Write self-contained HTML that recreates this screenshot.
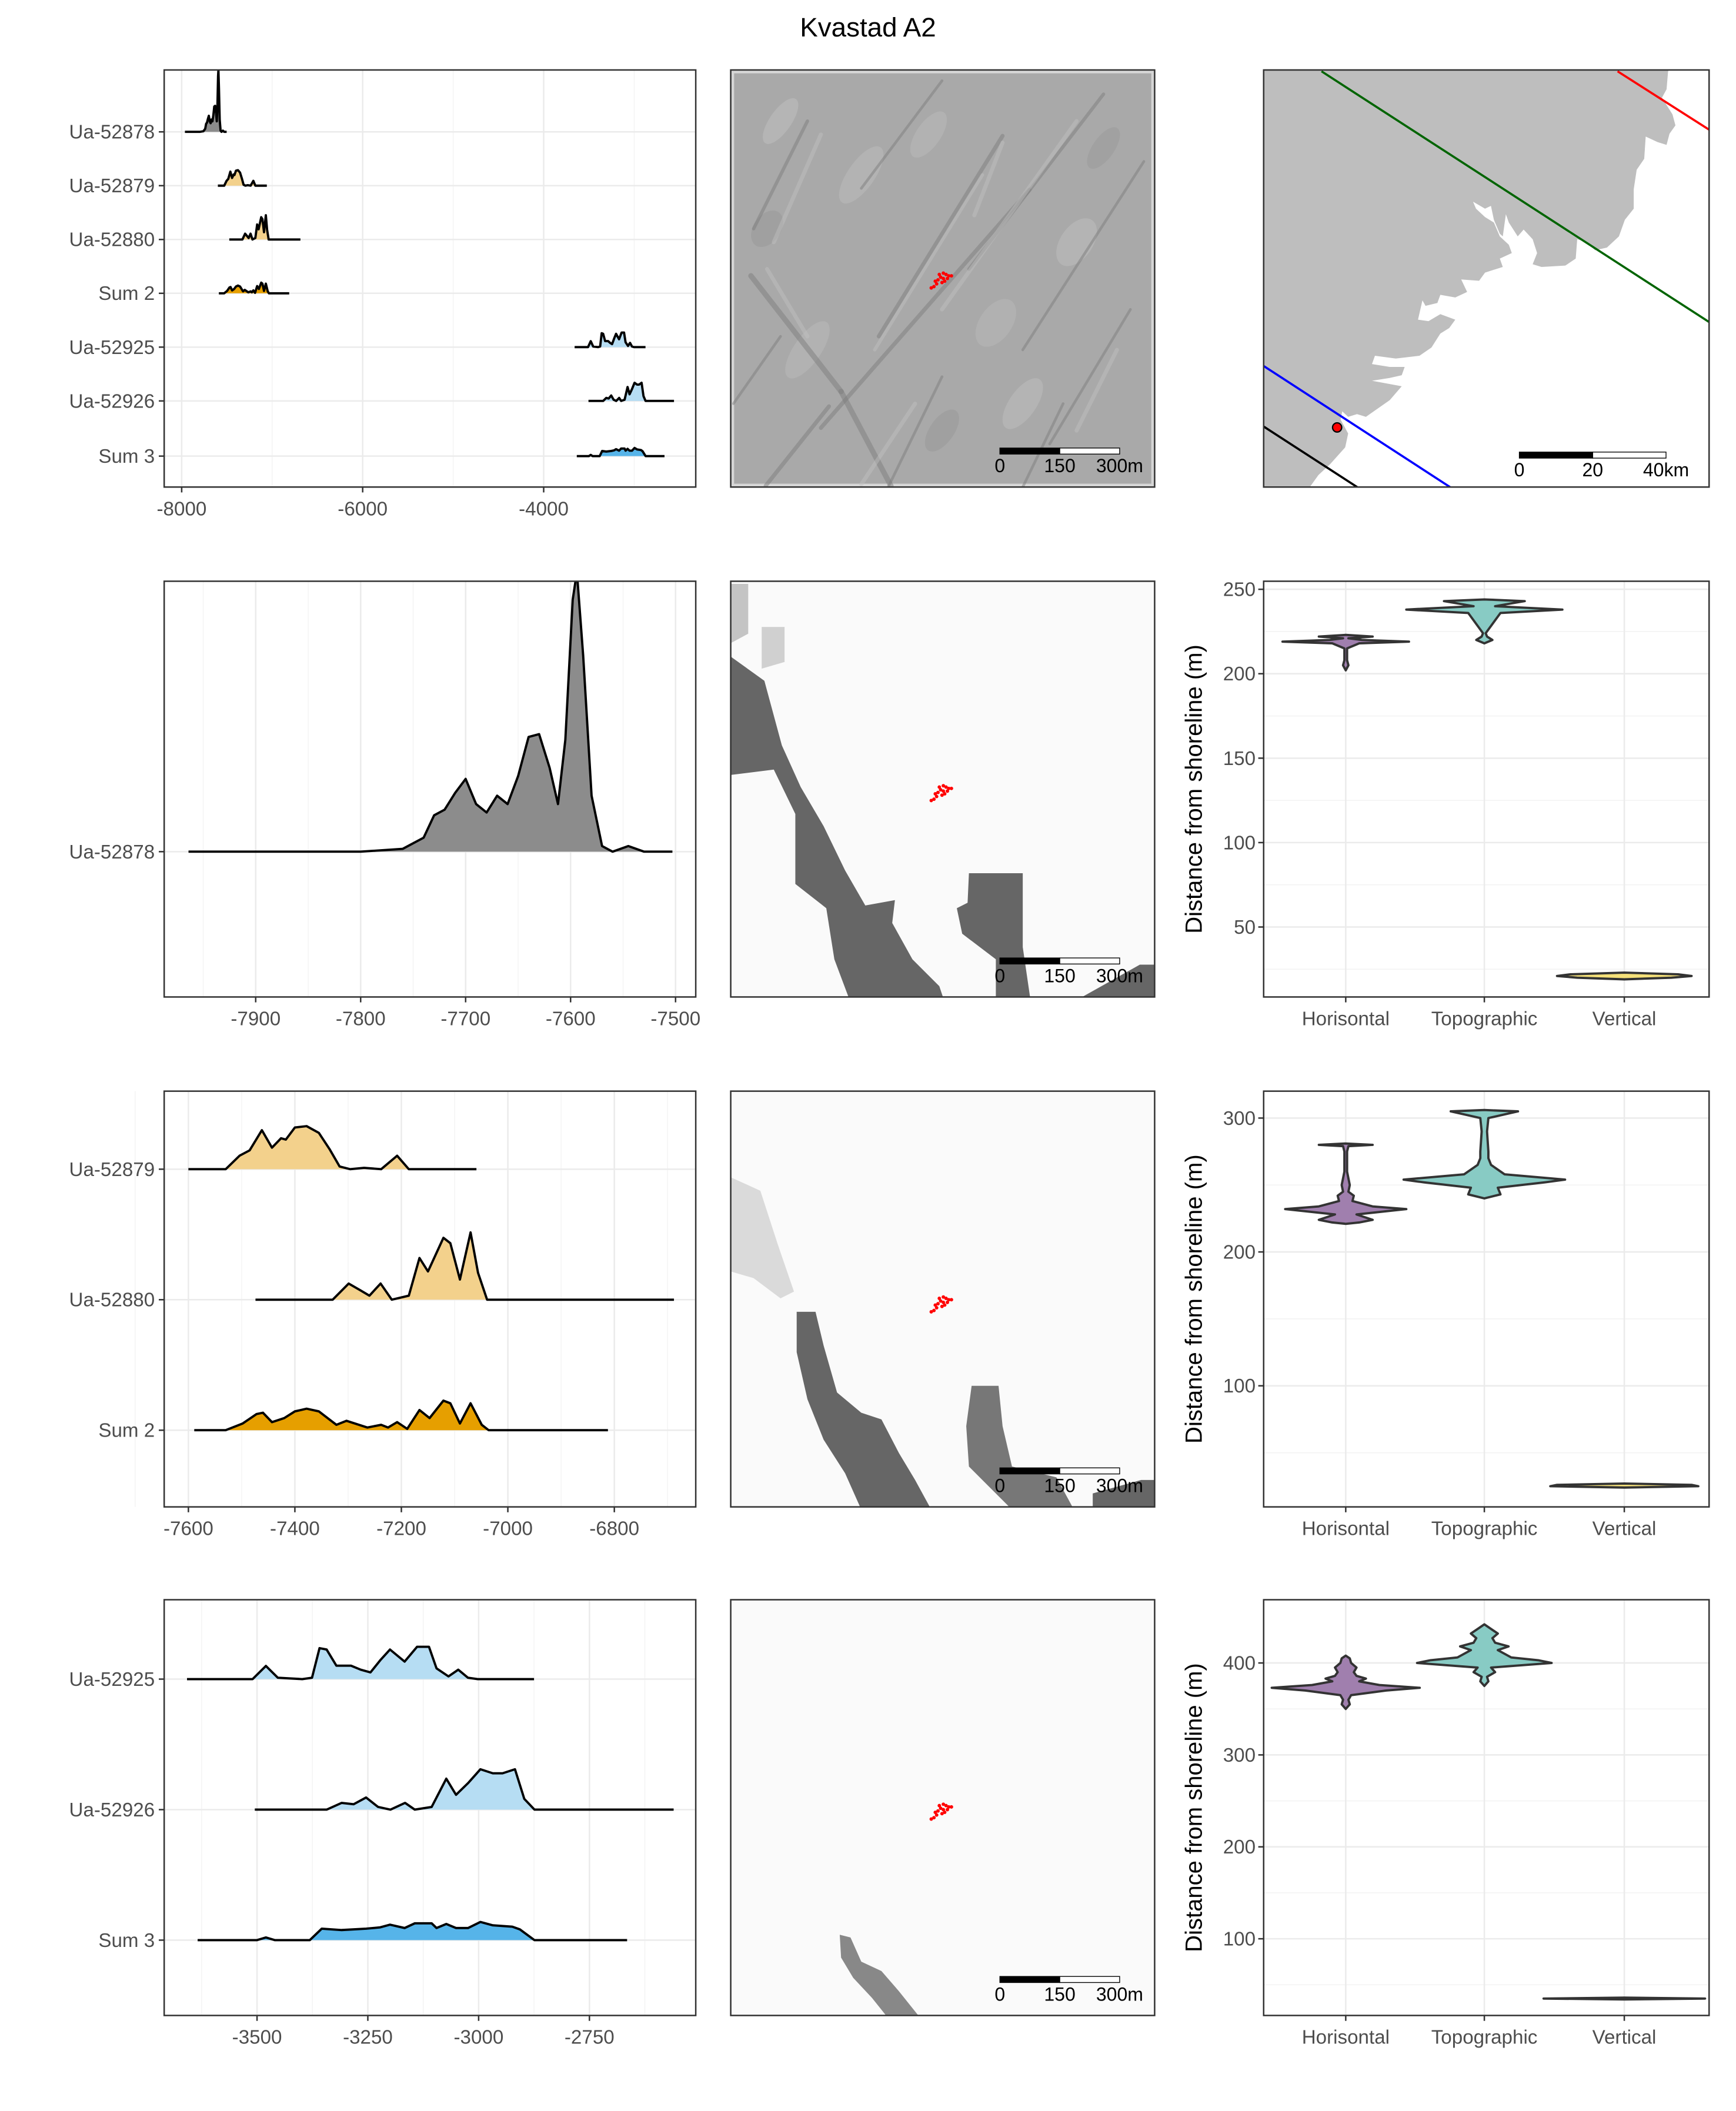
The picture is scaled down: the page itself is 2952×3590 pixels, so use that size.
<!DOCTYPE html>
<html><head><meta charset="utf-8"><title>Kvastad A2</title>
<style>
html,body{margin:0;padding:0;background:#fff;}
svg{display:block;}
text{font-family:"Liberation Sans",Arial,sans-serif;}
</style></head>
<body>
<svg id="fig" xmlns="http://www.w3.org/2000/svg" width="2952" height="3590" viewBox="0 0 1290 1569" preserveAspectRatio="none">
<rect x="0" y="0" width="1290" height="1569" fill="#fff"/>
<text x="645" y="27" font-size="20" text-anchor="middle" fill="#000">Kvastad A2</text>
<g id="layer"></g>
</svg>
<script>
// ---------- DATA ----------
const r52878Years=[-7964,-7800,-7760,-7740,-7730,-7720,-7710,-7700,-7690,-7680,-7670,-7660,-7650,-7640,-7630,-7620,-7612,-7605,-7598,-7594,-7588,-7580,-7570,-7560,-7545,-7530,-7503];
const r52878Dens=[0,0,0.01,0.05,0.13,0.15,0.21,0.26,0.17,0.14,0.2,0.17,0.27,0.41,0.42,0.3,0.17,0.4,0.9,1.0,0.7,0.2,0.02,0,0.02,0,0];
const r52879Years=[-7600,-7530,-7504,-7485,-7462,-7443,-7426,-7417,-7400,-7378,-7355,-7335,-7316,-7296,-7270,-7238,-7208,-7186,-7059];
const r52879Dens=[0,0,10,14,29,16,23,22,31,32,27,15,2,0,1,0,10,0,0];
const r52880Years=[-7474,-7329,-7299,-7277,-7260,-7239,-7218,-7186,-7166,-7150,-7121,-7108,-7090,-7070,-7056,-7039,-6688];
const r52880Dens=[0,0,12,7,3,12,0,3,31,21,46,42,15,50,20,0,0];
const sum2Years=[-7589,-7530,-7498,-7472,-7460,-7443,-7420,-7400,-7378,-7355,-7322,-7303,-7264,-7238,-7225,-7208,-7189,-7166,-7147,-7121,-7108,-7090,-7070,-7049,-7036,-6812];
const sum2Dens=[0,0,5,12,13,6,9,14,16,14,4,7,2,4,2,6,1,15,9,22,20,5,20,4,0,0];
const r52925Years=[-3658,-3510,-3480,-3453,-3398,-3376,-3359,-3343,-3321,-3288,-3266,-3244,-3222,-3200,-3167,-3139,-3112,-3095,-3068,-3046,-3024,-3002,-2875];
const r52925Dens=[0,0,9.8,1,0,1,23,22,10,10,7,5,14,22,13,24,24,8,2,7,1,0,0];
const r52926Years=[-3505,-3343,-3309,-3282,-3254,-3227,-3199,-3166,-3144,-3106,-3073,-3051,-3023,-2996,-2968,-2946,-2918,-2897,-2874,-2560];
const r52926Dens=[0,0,5,4,9,2,0,5,0,2,23,11,20,30,27,27,30,8,0,0];
const sum3Years=[-3634,-3500,-3480,-3460,-3381,-3354,-3309,-3254,-3222,-3200,-3167,-3144,-3106,-3095,-3073,-3051,-3024,-2996,-2968,-2924,-2907,-2874,-2665];
const sum3Dens=[0,0,2,0,0,8.5,7.5,8.5,9.5,11.5,9,12.5,12.5,9,12,9,9,13.5,11,10,8,0,0];

const overviewLabels=["Ua-52878","Ua-52879","Ua-52880","Sum 2","Ua-52925","Ua-52926","Sum 3"];
const row1Ticks=[-8000,-6000,-4000];
const row2Ticks=[-7900,-7800,-7700,-7600,-7500];
const row3Ticks=[-7600,-7400,-7200,-7000,-6800];
const row4Ticks=[-3500,-3250,-3000,-2750];

const violinCats=["Horisontal","Topographic","Vertical"];
const v2HVals=[202,205,208,215,218,219,220,221,222,223];
const v2HWid=[0,2,1,1,10,47,12,2,20,0];
const v2TVals=[218,220,222,224,236,238,240,243,244];
const v2TWid=[0,6,2,1,12,58,8,30,0];
const v2VVals=[19,20,21,22,23];
const v2VWid=[0,35,50,40,0];
const v3HVals=[221,222,224,228,232,234,238,242,245,250,260,275,279,280,281];
const v3HWid=[0,10,20,8,45,20,5,6,2,3,1,1,2,20,0];
const v3TVals=[240,243,248,252,254,258,265,270,275,290,300,305,306];
const v3TWid=[0,12,10,45,60,15,5,3,3,2,3,25,0];
const v3VVals=[24,25,26,27];
const v3VWid=[0,55,50,0];
const v4HVals=[350,355,360,365,370,373,376,380,383,386,390,395,400,405,408];
const v4HWid=[0,3,2,4,30,55,25,10,15,8,6,8,4,3,0];
const v4TVals=[375,380,385,390,395,400,403,406,410,414,418,422,427,432,437,442];
const v4TWid=[0,3,2,8,5,50,40,20,15,10,18,8,6,10,5,0];
const v4VVals=[34,35,36];
const v4VWid=[0,60,0];

const y2Ticks=[50,100,150,200,250];
const y3Ticks=[100,200,300];
const y4Ticks=[100,200,300,400];

// ---------- HELPERS ----------
const NS="http://www.w3.org/2000/svg";
const layer=document.getElementById('layer');
const FS=14.5;
function mk(tag,attrs,parent){const e=document.createElementNS(NS,tag);for(const k in attrs)e.setAttribute(k,attrs[k]);(parent||layer).appendChild(e);return e;}
function txt(s,x,y,attrs,parent){const t=mk('text',Object.assign({x:x,y:y,'font-size':FS,fill:'#4d4d4d'},attrs),parent);t.textContent=s;return t;}

const ROWS=[{t:52,b:362},{t:432,b:741},{t:811,b:1120},{t:1189,b:1498}];
const RX={l:122,r:517}, MX={l:543,r:858}, VX={l:939,r:1270};

function clip(id,x,y,w,h){const d=document.querySelector('defs')||mk('defs',{},document.getElementById('fig'));const c=mk('clipPath',{id:id},d);mk('rect',{x:x,y:y,width:w,height:h},c);}

// ---------- RIDGE PANELS ----------
function ridgePanel(row,xs,majors,minors,cats,ridges,name){
  const R=ROWS[row];
  const g=mk('g',{});
  
  
  mk('rect',{x:RX.l,y:R.t,width:RX.r-RX.l,height:R.b-R.t,fill:'#fff'},g);
  minors.forEach(v=>{mk('line',{x1:xs(v),x2:xs(v),y1:R.t,y2:R.b,stroke:'#f3f3f3','stroke-width':0.6},g);});
  majors.forEach(v=>{mk('line',{x1:xs(v),x2:xs(v),y1:R.t,y2:R.b,stroke:'#ebebeb','stroke-width':1.1},g);});
  cats.forEach(c=>{mk('line',{x1:RX.l,x2:RX.r,y1:c.y,y2:c.y,stroke:'#ebebeb','stroke-width':1.1},g);});
  const cid='clipR'+row;clip(cid,RX.l,R.t,RX.r-RX.l,R.b-R.t);
  const rg=mk('g',{'clip-path':'url(#'+cid+')'},g);
  ridges.forEach(rd=>{
    let pts=rd.years.map((yr,i)=>[xs(yr),rd.base-rd.dens[i]*rd.k]);
    let d='M'+pts.map(p=>p[0].toFixed(2)+','+p[1].toFixed(2)).join('L');
    const f=mk('path',{d:d+'L'+pts[pts.length-1][0]+','+rd.base+'L'+pts[0][0]+','+rd.base+'Z',fill:rd.fill,stroke:'none'},rg);
    
    
    const l=mk('path',{d:d,fill:'none',stroke:'#000','stroke-width':1.7,'stroke-linejoin':'round'},rg);
    
    
  });
  mk('rect',{x:RX.l,y:R.t,width:RX.r-RX.l,height:R.b-R.t,fill:'none',stroke:'#333','stroke-width':1.1},g);
  cats.forEach(c=>{
    mk('line',{x1:RX.l-4,x2:RX.l,y1:c.y,y2:c.y,stroke:'#333','stroke-width':1.1},g);
    const t=txt(c.label,RX.l-7,c.y+5,{'text-anchor':'end'},g);
    
    
  });
  majors.forEach(v=>{
    mk('line',{x1:xs(v),x2:xs(v),y1:R.b,y2:R.b+4,stroke:'#333','stroke-width':1.1},g);
    const t=txt(String(v),xs(v),R.b+21,{'text-anchor':'middle'},g);
    
    
  });
}
function lin(v0,p0,v1,p1){return v=>p0+(v-v0)*(p1-p0)/(v1-v0);}

const xs1=lin(-8000,135,-4000,404);
const catY1=[98,138,178,218,258,298,339];
ridgePanel(0,xs1,row1Ticks,[-7000,-5000,-3000],overviewLabels.map((l,i)=>({label:l,y:catY1[i]})),[
 {name:'ridge-ua-52878',years:r52878Years,dens:r52878Dens,base:catY1[0],k:46,fill:'#8c8c8c'},
 {name:'ridge-ua-52879',years:r52879Years,dens:r52879Dens,base:catY1[1],k:0.36,fill:'#f3d18c'},
 {name:'ridge-ua-52880',years:r52880Years,dens:r52880Dens,base:catY1[2],k:0.36,fill:'#f3d18c'},
 {name:'ridge-sum-2',years:sum2Years,dens:sum2Dens,base:catY1[3],k:0.36,fill:'#e69f00'},
 {name:'ridge-ua-52925',years:r52925Years,dens:r52925Dens,base:catY1[4],k:0.45,fill:'#b6ddf3'},
 {name:'ridge-ua-52926',years:r52926Years,dens:r52926Dens,base:catY1[5],k:0.45,fill:'#b6ddf3'},
 {name:'ridge-sum-3',years:sum3Years,dens:sum3Dens,base:catY1[6],k:0.45,fill:'#56b4e9'}
],'overview-ridge-panel');

const xs2=lin(-7900,190,-7500,502);
ridgePanel(1,xs2,row2Ticks,[-7950,-7850,-7750,-7650,-7550],[{label:'Ua-52878',y:633}],[
 {name:'ridge-ua-52878',years:r52878Years,dens:r52878Dens,base:633,k:208,fill:'#8c8c8c'}
],'phase1-ridge-panel');

const xs3=lin(-7600,140,-6800,456.5);
ridgePanel(2,xs3,row3Ticks,[-7700,-7500,-7300,-7100,-6900,-6700],[{label:'Ua-52879',y:869},{label:'Ua-52880',y:966},{label:'Sum 2',y:1063}],[
 {name:'ridge-ua-52879',years:r52879Years,dens:r52879Dens,base:869,k:1,fill:'#f3d18c'},
 {name:'ridge-ua-52880',years:r52880Years,dens:r52880Dens,base:966,k:1,fill:'#f3d18c'},
 {name:'ridge-sum-2',years:sum2Years,dens:sum2Dens,base:1063,k:1,fill:'#e69f00'}
],'phase2-ridge-panel');

const xs4=lin(-3500,191,-2750,438);
ridgePanel(3,xs4,row4Ticks,[-3625,-3375,-3125,-2875,-2625],[{label:'Ua-52925',y:1248},{label:'Ua-52926',y:1345},{label:'Sum 3',y:1442}],[
 {name:'ridge-ua-52925',years:r52925Years,dens:r52925Dens,base:1248,k:1,fill:'#b6ddf3'},
 {name:'ridge-ua-52926',years:r52926Years,dens:r52926Dens,base:1345,k:1,fill:'#b6ddf3'},
 {name:'ridge-sum-3',years:sum3Years,dens:sum3Dens,base:1442,k:1,fill:'#56b4e9'}
],'phase3-ridge-panel');

// ---------- VIOLIN PANELS ----------
const catX=[1000,1103,1207];
function violinPanel(row,ys,majors,minors,violins,name){
  const R=ROWS[row];
  const g=mk('g',{});
  
  
  mk('rect',{x:VX.l,y:R.t,width:VX.r-VX.l,height:R.b-R.t,fill:'#fff'},g);
  minors.forEach(v=>{mk('line',{x1:VX.l,x2:VX.r,y1:ys(v),y2:ys(v),stroke:'#f3f3f3','stroke-width':0.7},g);});
  majors.forEach(v=>{mk('line',{x1:VX.l,x2:VX.r,y1:ys(v),y2:ys(v),stroke:'#ebebeb','stroke-width':1.1},g);});
  catX.forEach(x=>{mk('line',{x1:x,x2:x,y1:R.t,y2:R.b,stroke:'#ebebeb','stroke-width':1.1},g);});
  const cols=['#a07fae','#88cbc4','#f5e17a'];
  violins.forEach((v,i)=>{
    const cx=catX[i];
    const right=v.vals.map((val,j)=>[cx+v.wid[j],ys(val)]);
    const left=v.vals.map((val,j)=>[cx-v.wid[j],ys(val)]).reverse();
    const pts=right.concat(left);
    const p=mk('path',{d:'M'+pts.map(q=>q[0].toFixed(2)+','+q[1].toFixed(2)).join('L')+'Z',fill:cols[i],stroke:'#333','stroke-width':1.7,'stroke-linejoin':'round'},g);
    
    
  });
  mk('rect',{x:VX.l,y:R.t,width:VX.r-VX.l,height:R.b-R.t,fill:'none',stroke:'#333','stroke-width':1.1},g);
  majors.forEach(v=>{
    mk('line',{x1:VX.l-4,x2:VX.l,y1:ys(v),y2:ys(v),stroke:'#333','stroke-width':1.1},g);
    const t=txt(String(v),VX.l-6,ys(v)+5,{'text-anchor':'end'},g);
    
    
  });
  violinCats.forEach((c,i)=>{
    mk('line',{x1:catX[i],x2:catX[i],y1:R.b,y2:R.b+4,stroke:'#333','stroke-width':1.1},g);
    const t=txt(c,catX[i],R.b+21,{'text-anchor':'middle'},g);
    
    
  });
  const cy=(R.t+R.b)/2;
  const yt=txt('Distance from shoreline (m)',893,cy,{'text-anchor':'middle','font-size':17.5,fill:'#000',transform:'rotate(-90 893 '+cy+')'},g);
  
  
}
violinPanel(1,lin(50,689,250,438),y2Ticks,[25,75,125,175,225],[
 {vals:v2HVals,wid:v2HWid},{vals:v2TVals,wid:v2TWid},{vals:v2VVals,wid:v2VWid}],'phase1-violin-panel');
violinPanel(2,lin(100,1030,300,831),y3Ticks,[50,150,250],[
 {vals:v3HVals,wid:v3HWid},{vals:v3TVals,wid:v3TWid},{vals:v3VVals,wid:v3VWid}],'phase2-violin-panel');
violinPanel(3,lin(100,1441,400,1236),y4Ticks,[50,150,250,350],[
 {vals:v4HVals,wid:v4HWid},{vals:v4TVals,wid:v4TWid},{vals:v4VVals,wid:v4VWid}],'phase3-violin-panel');

// ---------- MAPS ----------
function scaleBar(g,x0,y0,w,labels){
  mk('rect',{x:x0,y:y0,width:w/2,height:4.5,fill:'#000',stroke:'#000','stroke-width':0.6},g);
  mk('rect',{x:x0+w/2,y:y0,width:w/2,height:4.5,fill:'#fff',stroke:'#000','stroke-width':0.6},g);
  labels.forEach((l,i)=>{txt(l,x0+i*w/2,y0+18,{'text-anchor':'middle',fill:'#000','font-size':14},g);});
}
function redSite(g,dx,dy){
  const pts=[[0,0],[2,-1],[4,-3],[3,-5],[5,-6],[7,-8],[6,-10],[9,-11],[11,-10],[13,-9],[15,-9],[12,-7],[9,-7],[10,-5],[8,-4]];
  pts.forEach(p=>mk('circle',{cx:dx+p[0],cy:dy+p[1],r:1.3,fill:'#ff0000'},g));
}
(function(){
  const R=ROWS[0];
  const g=mk('g',{});
  
  
  clip('clipM0',MX.l,R.t,MX.r-MX.l,R.b-R.t);
  mk('rect',{x:MX.l,y:R.t,width:MX.r-MX.l,height:R.b-R.t,fill:'#d6d6d6'},g);
  const ig=mk('g',{'clip-path':'url(#clipM0)'},g);
  mk('rect',{x:MX.l+2.5,y:R.t+2.5,width:MX.r-MX.l-5,height:R.b-R.t-5,fill:'#a9a9a9'},ig);
  const blobs=[[580,90,20,8,'#b8b8b8'],[640,130,25,10,'#b5b5b5'],[800,180,20,12,'#b6b6b6'],[600,260,25,10,'#b4b4b4'],[760,300,22,10,'#b7b7b7'],[700,320,18,9,'#9e9e9e'],[820,110,18,8,'#9f9f9f'],[570,170,15,10,'#9d9d9d'],[690,100,20,9,'#b4b4b4'],[740,240,20,12,'#b3b3b3']];
  blobs.forEach(b=>mk('ellipse',{cx:b[0],cy:b[1],rx:b[2],ry:b[3],fill:b[4],opacity:0.8,transform:'rotate(-55 '+b[0]+' '+b[1]+')'},ig));
  const dark=[[745,101,653,250,3],[765,141,610,318,3],[558,205,625,291,4],[625,291,662,361,4],[616,302,569,361,3],[820,70,720,200,2.5],[850,120,760,260,2],[600,90,560,170,2.5],[700,60,640,140,2],[840,230,780,330,2],[700,280,660,362,2],[580,250,545,300,2],[790,300,760,362,2]];
  dark.forEach(l=>mk('line',{x1:l[0],y1:l[1],x2:l[2],y2:l[3],stroke:'#7e7e7e','stroke-width':l[4],'stroke-linecap':'round',opacity:0.5},ig));
  const light=[[745,106,724,160,3],[730,130,650,260,2.5],[800,90,700,230,3],[610,100,575,180,3],[680,300,640,360,3],[830,260,800,320,3],[570,200,600,250,3]];
  light.forEach(l=>mk('line',{x1:l[0],y1:l[1],x2:l[2],y2:l[3],stroke:'#c2c2c2','stroke-width':l[4],'stroke-linecap':'round',opacity:0.45},ig));
  redSite(ig,692,214);
  mk('rect',{x:MX.l,y:R.t,width:MX.r-MX.l,height:R.b-R.t,fill:'none',stroke:'#333','stroke-width':1.1},g);
  scaleBar(g,743,333,89,['0','150','300m']);
})();
(function(){
  const R=ROWS[0];
  const g=mk('g',{});
  
  
  clip('clipRM',VX.l,R.t,VX.r-VX.l,R.b-R.t);
  const ig=mk('g',{'clip-path':'url(#clipRM)'},g);
  mk('rect',{x:VX.l,y:R.t,width:VX.r-VX.l,height:R.b-R.t,fill:'#fff'},ig);
  const z=[[1415,47],[1410,110],[1395,140],[1430,200],[1440,240],[1420,270],[1410,310],[1380,300],[1340,280],[1335,360],[1310,400],[1300,470],[1300,540],[1270,580],[1250,640],[1210,680],[1170,690],[1140,660],[1110,650],[1105,720],[1070,745],[990,750],[960,740],[975,700],[960,650],[930,615],[910,640],[880,590],[870,560],[860,640],[850,630],[830,580],[820,530],[800,540],[760,515],[770,540],[800,570],[830,590],[850,640],[880,670],[890,700],[850,720],[860,750],[800,770],[780,800],[720,795],[740,840],[700,860],[650,850],[640,880],[600,890],[590,870],[575,940],[610,945],[650,920],[700,940],[680,970],[650,990],[620,1040],[580,1070],[500,1080],[430,1070],[420,1100],[480,1110],[530,1110],[520,1140],[480,1150],[420,1160],[520,1180],[480,1230],[400,1290],[370,1280],[340,1290],[320,1270],[315,1300],[340,1350],[330,1400],[280,1460],[240,1500],[200,1560],[40,1560],[40,30],[1420,30]];
  const pts=z.map(p=>[926.6+p[0]*0.2211,43.7+p[1]*0.2063]);
  mk('path',{d:'M'+pts.map(p=>p[0].toFixed(1)+','+p[1].toFixed(1)).join('L')+'Z',fill:'#bebebe'},ig);
  [[982,53,1271,240,'#006400'],[1202,53,1271,97,'#ff0000'],[939,272,1079,363,'#0000ff'],[939,317,1010,363,'#000']].forEach(l=>mk('line',{x1:l[0],y1:l[1],x2:l[2],y2:l[3],stroke:l[4],'stroke-width':1.6},ig));
  mk('circle',{cx:993.6,cy:317.7,r:3.4,fill:'#ff0000',stroke:'#000','stroke-width':1},ig);
  mk('rect',{x:VX.l,y:R.t,width:VX.r-VX.l,height:R.b-R.t,fill:'none',stroke:'#333','stroke-width':1.1},g);
  scaleBar(g,1129,336,109,['0','20','40km']);
})();
function shoreMap(row,polys,siteY,name){
  const R=ROWS[row];
  const g=mk('g',{});
  
  
  const cid='clipSM'+row;clip(cid,MX.l,R.t,MX.r-MX.l,R.b-R.t);
  const ig=mk('g',{'clip-path':'url(#'+cid+')'},g);
  mk('rect',{x:MX.l,y:R.t,width:MX.r-MX.l,height:R.b-R.t,fill:'#fafafa'},ig);
  polys.forEach(p=>mk('path',{d:'M'+p.pts.map(q=>q[0]+','+q[1]).join('L')+'Z',fill:p.fill},ig));
  redSite(ig,692,siteY);
  mk('rect',{x:MX.l,y:R.t,width:MX.r-MX.l,height:R.b-R.t,fill:'none',stroke:'#333','stroke-width':1.1},g);
  scaleBar(g,743,R.b-29,89,['0','150','300m']);
}
shoreMap(1,[
 {fill:'#c4c4c4',pts:[[543,434],[556,434],[556,471],[543,478]]},
 {fill:'#d0d0d0',pts:[[566,466],[583,466],[583,492],[566,497]]},
 {fill:'#666',pts:[[543,488],[568,506],[581,554],[595,585],[612,614],[628,647],[643,673],[665,669],[663,686],[678,713],[698,733],[702,745],[632,745],[620,713],[614,675],[591,657],[591,605],[575,572],[543,576]]},
 {fill:'#666',pts:[[720,649],[760,649],[760,704],[766,745],[740,745],[740,713],[715,694],[711,675],[719,671]]},
 {fill:'#666',pts:[[797,745],[847,717],[860,717],[860,745]]}
],595,'phase1-shoreline-map');
shoreMap(2,[
 {fill:'#dadada',pts:[[543,875],[565,885],[578,925],[590,960],[580,965],[560,950],[543,945]]},
 {fill:'#666',pts:[[592,975],[606,975],[612,1000],[622,1035],[640,1050],[655,1055],[668,1080],[680,1100],[692,1122],[640,1122],[628,1095],[612,1070],[600,1040],[592,1005]]},
 {fill:'#777',pts:[[722,1030],[742,1030],[745,1060],[752,1090],[785,1098],[798,1122],[752,1122],[735,1105],[720,1090],[718,1060]]},
 {fill:'#666',pts:[[812,1110],[848,1100],[860,1100],[860,1122],[812,1122]]}
],975,'phase2-shoreline-map');
shoreMap(3,[
 {fill:'#888',pts:[[624,1438],[632,1440],[640,1458],[655,1465],[668,1480],[684,1500],[660,1500],[648,1485],[634,1470],[625,1455]]}
],1352,'phase3-shoreline-map');
</script>
</body></html>
